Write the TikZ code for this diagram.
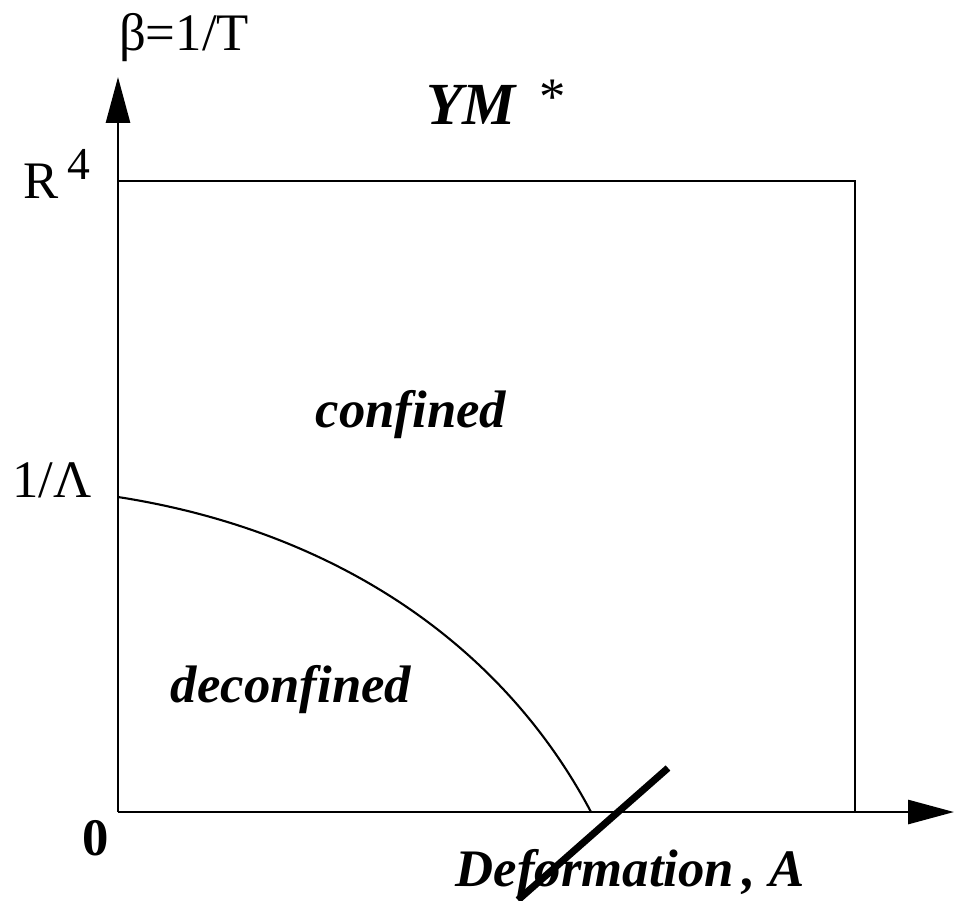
\documentclass[tikz,border=0pt]{standalone}
\usepackage{fontspec}
\setmainfont{Liberation Serif}
\usetikzlibrary{arrows.meta}

\tikzset{
  axis/.style={line width=0.8pt,-{Triangle[length=4.6mm,width=2.4mm]}},
  phase/.style={font=\fontsize{15}{17}\selectfont\bfseries\itshape},
  tick/.style={font=\fontsize{15}{17}\selectfont}
}

\begin{document}
\begin{tikzpicture}[>=Stealth]
  \useasboundingbox (-1.18,-0.88) rectangle (8.36,8.12);
  \coordinate (O) at (0,0);
  \coordinate (ytip) at (0,7.35);
  \coordinate (xtip) at (8.36,0);
  \coordinate (tl) at (0,6.31);
  \coordinate (tr) at (7.37,6.31);
  \coordinate (br) at (7.37,0);
  \coordinate (lam) at (0,3.15);
  \coordinate (crit) at (4.73,0);
  \coordinate (slashtop) at (5.50,0.44);
  \coordinate (slashbot) at (4.00,-0.88);
  % axes
  \draw[axis] (O) -- (ytip);
  \draw[axis] (O) -- (xtip);
  % box
  \draw[line width=0.8pt] (tl) -- (tr) -- (br);
  % phase boundary
  \draw[line width=0.6pt] (lam) .. controls (2.12,2.82) and (3.82,1.72) .. (crit);
  % deformation cut
  \draw[line width=2pt] (slashtop) -- (slashbot);
  % labels
  \node[tick] (beta) at (0.66,7.74) {β=1/T};
  \node[font=\fontsize{17}{19}\selectfont\bfseries\itshape] (ym) at (3.53,7.07) {YM};
  \node[tick] (star) at (4.35,7.15) {*};
  \node[tick] (rfour) at (-0.61,6.38) {R\,\raisebox{0.8ex}{\fontsize{13}{15}\selectfont 4}};
  \node[tick] (lamlab) at (-0.66,3.32) {1/Λ};
  \node[tick,font=\fontsize{15}{17}\selectfont\bfseries] (zero) at (-0.22,-0.26) {0};
  \node[phase] (conf) at (2.93,3.97) {confined};
  \node[phase] (deconf) at (1.73,1.22) {deconfined};
  \node[phase] (defo) at (5.12,-0.62) {Deformation\,, A};
\end{tikzpicture}
\end{document}
